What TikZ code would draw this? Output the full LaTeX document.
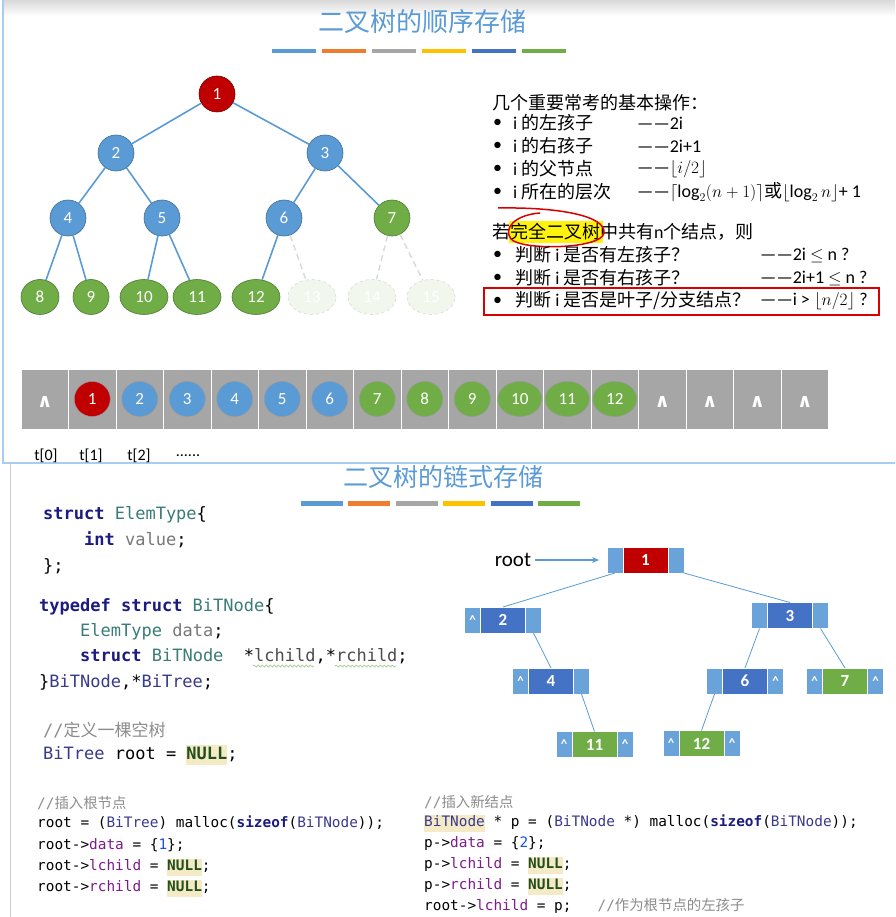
\documentclass[tikz,border=0pt]{standalone}
\usepackage{fontspec}
\setmainfont{Carlito}
\setmonofont{DejaVu Sans Mono}
\newfontfamily\cjk{Noto Sans CJK SC}
\newfontfamily\symf{DejaVu Sans Bold}
\usepackage{amsmath}
\usetikzlibrary{shapes.geometric, arrows.meta, positioning, decorations.pathmorphing}

\definecolor{sblue}{HTML}{5B9BD5}
\definecolor{pblue}{HTML}{6AA3D9}
\definecolor{dblue}{HTML}{4472C4}
\definecolor{dred}{HTML}{C00000}
\definecolor{lgreen}{HTML}{70AD47}
\definecolor{cgray}{HTML}{A6A6A6}
\definecolor{corange}{HTML}{ED7D31}
\definecolor{cyellow}{HTML}{FFC000}
\definecolor{frameblue}{HTML}{A9CCF0}
\definecolor{kwnavy}{HTML}{1B1B80}
\definecolor{tyteal}{HTML}{3A7C78}
\definecolor{tpnavy}{HTML}{3A3A8C}
\definecolor{fdpurple}{HTML}{7E1C8E}
\definecolor{vgray}{HTML}{777777}
\definecolor{cmtgray}{HTML}{8C8C8C}
\definecolor{nullgreen}{HTML}{234F1E}
\definecolor{hlbg}{HTML}{F4EBC6}
\definecolor{cnumblue}{HTML}{1750EB}
\definecolor{squig}{HTML}{9CC98C}

\newcommand\kw[1]{{\bfseries\color{kwnavy}#1}}
\newcommand\ty[1]{{\color{tyteal}#1}}
\newcommand\tp[1]{{\color{tpnavy}#1}}
\newcommand\fd[1]{{\color{fdpurple}#1}}
\newcommand\vg[1]{{\color{vgray}#1}}
\newcommand\cmt[1]{{\color{cmtgray}#1}}
\newcommand\cnum[1]{{\color{cnumblue}#1}}
\newcommand\hlbox[1]{{\setlength\fboxsep{0pt}\colorbox{hlbg}{\strut#1}}}
\newcommand\cnull{\hlbox{\bfseries\color{nullgreen}NULL}}

\tikzset{
  tnode/.style={circle, minimum size=36pt, inner sep=0pt, fill=sblue, draw=sblue!70!black, line width=0.6pt, text=white, font=\fontsize{17}{17}\selectfont},
  leaf/.style={ellipse, minimum height=35pt, minimum width=48pt, inner sep=0pt, fill=lgreen, draw=lgreen!70!black, line width=0.6pt, text=white, font=\fontsize{17}{17}\selectfont},
  ghost/.style={leaf, fill=lgreen!10, draw=gray!30, dashed},
  tedge/.style={draw=sblue, line width=1.6pt},
  gedge/.style={draw=gray!30, line width=1.4pt, dash pattern=on 6pt off 4pt},
  cell/.style={rectangle, minimum width=47.5pt, minimum height=60pt, inner sep=0pt, fill=cgray, draw=white, line width=0.8pt},
  anode/.style={ellipse, minimum height=35pt, minimum width=36pt, inner sep=0pt, draw=black!40, line width=0.4pt, text=white, font=\fontsize{17}{17}\selectfont},
  nil/.style={text=white, inner sep=0pt, font=\symf\fontsize{19}{19}\selectfont},
  pbox/.style={rectangle, minimum width=16pt, minimum height=26pt, inner sep=0pt, outer sep=0pt, fill=pblue, draw=white, line width=0.5pt, text=white, font=\bfseries\fontsize{13}{13}\selectfont},
  dbox/.style={rectangle, minimum width=45pt, minimum height=26pt, inner sep=0pt, outer sep=0pt, fill=dblue, draw=white, line width=0.5pt, text=white, font=\bfseries\fontsize{17}{17}\selectfont},
  ledge/.style={draw=sblue, line width=0.8pt},
  code/.style={anchor=west, inner sep=0pt, font=\ttfamily\fontsize{17}{20}\selectfont},
  scode/.style={code, font=\ttfamily\fontsize{14.4}{17}\selectfont},
  txt/.style={anchor=west, inner sep=0pt, font=\fontsize{18}{22}\selectfont},
  lbl/.style={inner sep=0pt, font=\fontsize{16}{18}\selectfont},
  title/.style={text=sblue, font=\cjk\fontsize{26}{28}\selectfont},
}

\begin{document}
\begin{tikzpicture}[x=1pt, y=-1pt]

    \useasboundingbox (0,0) rectangle (895,917);
    \fill[white] (0,0) rectangle (895,917);

    % upper panel
    \shade[top color=gray!30, bottom color=white] (3,0) rectangle (895,16);
    \draw[frameblue, line width=1.2pt] (3,0) -- (3,463) -- (895,463);
    \draw[gray!40, line width=0.8pt] (10,464) -- (10,917);

    \node[title] (top) at (422,22) {二叉树的顺序存储};
    \foreach \c [count=\k from 0] in {sblue,corange,cgray,cyellow,dblue,lgreen}
        \fill[\c] ({272+50*\k},49) rectangle ++(44,4.5);

    \node[tnode, fill=dred, draw=dred!60!black] (n1) at (217,94) {1};
    \node[tnode] (n2) at (116,153) {2};
    \node[tnode] (n3) at (325,153) {3};
    \node[tnode] (n4) at (68,218) {4};
    \node[tnode] (n5) at (162,218) {5};
    \node[tnode] (n6) at (284,218) {6};
    \node[tnode, fill=lgreen, draw=lgreen!70!black] (n7) at (392,218) {7};
    \node[leaf, minimum width=38pt] (n8) at (40,297) {8};
    \node[leaf, minimum width=36pt] (n9) at (91,297) {9};
    \node[leaf] (n10) at (144,297) {10};
    \node[leaf] (n11) at (197,297) {11};
    \node[leaf] (n12) at (256,297) {12};
    \node[ghost] (n13) at (312,297) {13};
    \node[ghost] (n14) at (372,297) {14};
    \node[ghost] (n15) at (431,297) {15};

    \draw[tedge] (n1) -- (n2);
    \draw[tedge] (n1) -- (n3);
    \draw[tedge] (n2) -- (n4);
    \draw[tedge] (n2) -- (n5);
    \draw[tedge] (n3) -- (n6);
    \draw[tedge] (n3) -- (n7);
    \draw[tedge] (n4) -- (n8);
    \draw[tedge] (n4) -- (n9);
    \draw[tedge] (n5) -- (n10);
    \draw[tedge] (n5) -- (n11);
    \draw[tedge] (n6) -- (n12);
    \draw[gedge] (n6) -- (n13);
    \draw[gedge] (n7) -- (n14);
    \draw[gedge] (n7) -- (n15);

    \node[txt] (ops) at (492,103) {\cjk 几个重要常考的基本操作：};
    \node[txt] at (493,123) {\textbullet};
    \node[txt] at (493,146) {\textbullet};
    \node[txt] at (493,169) {\textbullet};
    \node[txt] at (493,192) {\textbullet};
    \node[txt] (lc) at (513,123) {i {\cjk 的左孩子}};
    \node[txt] (rc) at (513,146) {i {\cjk 的右孩子}};
    \node[txt] (pa) at (513,169) {i {\cjk 的父节点}};
    \node[txt] (lv) at (513,192) {i {\cjk 所在的层次}};
    \node[txt] at (637,123) {——2i};
    \node[txt] at (637,146) {——2i+1};
    \node[txt] at (637,169) {——$\lfloor i/2\rfloor$};
    \node[txt] at (637,192) {——$\lceil\log_2(n+1)\rceil${\cjk 或}$\lfloor\log_2 n\rfloor$+ 1};

    \fill[yellow!95!white] (509,221) rectangle (603,243);
    \node[txt] (cbt) at (492,232) {{\cjk 若完全二叉树中共有}n{\cjk 个结点，则}};
    \draw[red!85!black, line width=1.5pt] (498,208) .. controls (560,207) and (606,216) .. (604,233)
        .. controls (602,249) and (522,251) .. (511,239) .. controls (503,229) and (514,215) .. (540,213);
    \node[txt] at (493,255) {\textbullet};
    \node[txt] at (493,278) {\textbullet};
    \node[txt] at (493,301) {\textbullet};
    \node[txt] (q1) at (515,255) {{\cjk 判断} i {\cjk 是否有左孩子？}};
    \node[txt] (q2) at (515,278) {{\cjk 判断} i {\cjk 是否有右孩子？}};
    \node[txt] (q3) at (515,301) {{\cjk 判断} i {\cjk 是否是叶子/分支结点？}};
    \node[txt] at (760,255) {——2i $\le$ n ?};
    \node[txt] at (760,278) {——2i+1 $\le$ n ?};
    \node[txt] at (760,301) {——i > $\lfloor n/2\rfloor$ ?};
    \draw[red!85!black, line width=1.2pt] (484,288) rectangle (879,315);

    \foreach \i in {0,...,16}
        \node[cell] (a\i) at ({21+47.5*(\i+0.5)},399) {};
    \foreach \i in {0,13,14,15,16}
        \node[nil] at ([yshift=-3pt]a\i.center) {∧};
    \foreach \i/\c/\w in {1/dred/36,2/sblue/36,3/sblue/36,4/sblue/36,5/sblue/36,6/sblue/36,
                          7/lgreen/36,8/lgreen/36,9/lgreen/36,10/lgreen/44,11/lgreen/44,12/lgreen/44}
        \node[anode, fill=\c, minimum width=\w pt] (e\i) at (a\i) {\i};

    \node[lbl] (t0) at (46,456) {t[0]};
    \node[lbl] (t1) at (91,456) {t[1]};
    \node[lbl] (t2) at (139,456) {t[2]};
    \node[lbl] (tdots) at (188,456) {......};

    % lower panel
    \node[title, font=\cjk\fontsize{25}{27}\selectfont] (bot) at (443,477) {二叉树的链式存储};
    \foreach \c [count=\k from 0] in {sblue,corange,cgray,cyellow,dblue,lgreen}
        \fill[\c] ({301+47.4*\k},501) rectangle ++(42,4.5);

    \node[code] at (43,515) {\kw{struct} \ty{ElemType}\{};
    \node[code] at (84,540) {\kw{int} \vg{value};};
    \node[code] at (43,566) {\};};
    \node[code] at (39,607) {\kw{typedef} \kw{struct} \ty{BiTNode}\{};
    \node[code] at (80,632) {\ty{ElemType} \vg{data};};
    \node[code] at (80,656) {\kw{struct} \ty{BiTNode}\ \ *{\color{black!70}lchild},*{\color{black!70}rchild};};
    \draw[decorate, decoration={snake, amplitude=1pt, segment length=4pt}, squig, line width=0.7pt] (253,666) -- (314,666);
    \draw[decorate, decoration={snake, amplitude=1pt, segment length=4pt}, squig, line width=0.7pt] (335,666) -- (396,666);
    \node[code] at (39,682) {\}\tp{BiTNode},*\tp{BiTree};};
    \node[code] at (43,730) {\cmt{//{\cjk 定义一棵空树}}};
    \node[code] at (43,755) {\tp{BiTree} root = \cnull;};

    \node[scode] at (37,803) {\cmt{//{\cjk 插入根节点}}};
    \node[scode] at (37,823) {root = (\tp{BiTree}) malloc(\kw{sizeof}(\tp{BiTNode}));};
    \node[scode] at (37,845) {root->\fd{data} = \{\cnum{1}\};};
    \node[scode] at (37,867) {root->\fd{lchild} = \cnull;};
    \node[scode] at (37,888) {root->\fd{rchild} = \cnull;};

    \node[scode] at (424,802) {\cmt{//{\cjk 插入新结点}}};
    \node[scode] at (424,823) {\hlbox{\tp{BiTNode}} * p = (\tp{BiTNode} *) malloc(\kw{sizeof}(\tp{BiTNode}));};
    \node[scode] at (424,844) {p->\fd{data} = \{\cnum{2}\};};
    \node[scode] at (424,865) {p->\fd{lchild} = \cnull;};
    \node[scode] at (424,886) {p->\fd{rchild} = \cnull;};
    \node[scode] at (424,906) {root->\fd{lchild} = p;\ \ \ \cmt{//{\cjk 作为根节点的左孩子}}};

    \node[dbox, fill=dred] (L1) at (645.5,560) {1};
    \node[pbox, left=0pt of L1] (L1l) {};
    \node[pbox, right=0pt of L1] (L1r) {};
    \node[dbox] (L2) at (503,620) {2};
    \node[pbox, left=0pt of L2] (L2l) {\textasciicircum};
    \node[pbox, right=0pt of L2] (L2r) {};
    \node[dbox] (L3) at (790,615.5) {3};
    \node[pbox, left=0pt of L3] (L3l) {};
    \node[pbox, right=0pt of L3] (L3r) {};
    \node[dbox] (L4) at (551,681) {4};
    \node[pbox, left=0pt of L4] (L4l) {\textasciicircum};
    \node[pbox, right=0pt of L4] (L4r) {};
    \node[dbox] (L6) at (745,681) {6};
    \node[pbox, left=0pt of L6] (L6l) {};
    \node[pbox, right=0pt of L6] (L6r) {\textasciicircum};
    \node[dbox, fill=lgreen] (L7) at (845,681) {7};
    \node[pbox, left=0pt of L7] (L7l) {\textasciicircum};
    \node[pbox, right=0pt of L7] (L7r) {\textasciicircum};
    \node[dbox, fill=lgreen] (L11) at (594.5,744.5) {11};
    \node[pbox, left=0pt of L11] (L11l) {\textasciicircum};
    \node[pbox, right=0pt of L11] (L11r) {\textasciicircum};
    \node[dbox, fill=lgreen] (L12) at (701.5,743.5) {12};
    \node[pbox, left=0pt of L12] (L12l) {\textasciicircum};
    \node[pbox, right=0pt of L12] (L12r) {\textasciicircum};

    \draw[ledge] (L1l.south) -- (L2.north);
    \draw[ledge] (L1r.south east) -- (L3.north);
    \draw[ledge] (L2r.south) -- (L4.north);
    \draw[ledge] (L4r.south) -- (L11.north);
    \draw[ledge] (L3l.south) -- (L6.north);
    \draw[ledge] (L3r.south) -- (L7.north);
    \draw[ledge] (L6l.south) -- (L12.north);

    \node[font=\fontsize{21}{21}\selectfont] (root) at (513,560) {root};
    \draw[sblue, line width=1.6pt, -{Stealth[length=7pt, width=6pt]}, shorten >=8pt] (root) -- (L1l);

\end{tikzpicture}
\end{document}
